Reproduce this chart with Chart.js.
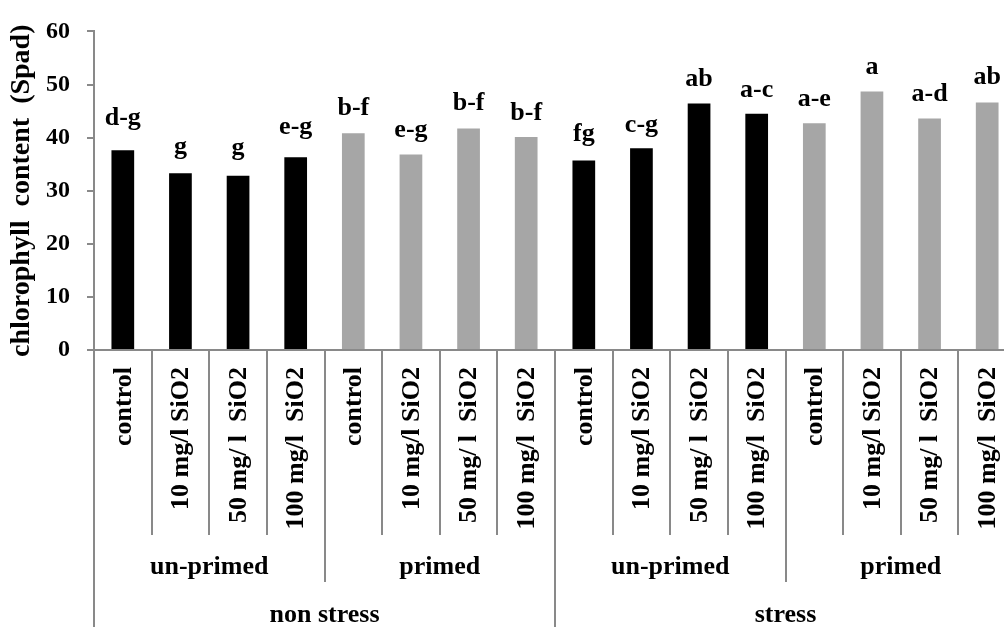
<!DOCTYPE html>
<html>
<head>
<meta charset="utf-8">
<script src="https://cdn.jsdelivr.net/npm/chart.js@4/dist/chart.umd.min.js"></script>
<style>
  html, body { margin: 0; padding: 0; background: #fff; overflow: hidden; }
  #wrap { width: 1020px; height: 627px; }
</style>
</head>
<body>
<div id="wrap"><canvas id="c" width="1020" height="627"></canvas></div>
<script>
// Treatment labels (innermost level of the category axis)
const treatments = [
  'control', '10 mg/l SiO2', '50 mg/ l  SiO2', '100 mg/l  SiO2',
  'control', '10 mg/l SiO2', '50 mg/ l  SiO2', '100 mg/l  SiO2',
  'control', '10 mg/l SiO2', '50 mg/ l  SiO2', '100 mg/l  SiO2',
  'control', '10 mg/l SiO2', '50 mg/ l  SiO2', '100 mg/l  SiO2'
];
// Seed priming groups (middle level), each spanning 4 treatments
const priming = ['un-primed', 'primed', 'un-primed', 'primed'];
// Stress conditions (outer level), each spanning 8 treatments
const conditions = ['non stress', 'stress'];

// Chlorophyll content (SPAD) per treatment
const spad = [37.6, 33.3, 32.8, 36.3, 40.8, 36.8, 41.7, 40.1,
              35.7, 38.0, 46.4, 44.5, 42.7, 48.7, 43.6, 46.6];
// Mean separation letters
const letters = ['d-g', 'g', 'g', 'e-g', 'b-f', 'e-g', 'b-f', 'b-f',
                 'fg', 'c-g', 'ab', 'a-c', 'a-e', 'a', 'a-d', 'ab'];

// Y axis range
const yMin = 0, yMax = 60, yStep = 10;

const SERIF = '"Liberation Serif", "Times New Roman", serif';
const AXIS_GREY = '#898989';
const fillFor = i => (priming[Math.floor(i / 4)] === 'un-primed' ? '#000000' : '#a6a6a6');
// gap (px) between each bar top and the baseline of its letter label
const letterGap = [25, 19, 21, 23, 18, 18, 19, 17, 19, 16, 18, 17, 17, 17, 17, 19];

const multiLevelAxis = {
  id: 'multiLevelAxis',
  afterDraw(chart) {
    const { ctx, chartArea } = chart;
    const x = chart.scales.x;
    const n = treatments.length;
    const step = (chartArea.right - chartArea.left) / n;
    const base = chartArea.bottom;
    const bottom = chart.height;

    ctx.save();
    // separators between categories
    ctx.strokeStyle = AXIS_GREY;
    ctx.lineWidth = 2;
    for (let i = 0; i <= n; i++) {
      const bx = Math.round(chartArea.left + i * step);
      let end = base + 185;
      if (i % 8 === 0) end = bottom;
      else if (i % 4 === 0) end = base + 232;
      ctx.beginPath();
      ctx.moveTo(bx, base);
      ctx.lineTo(bx, end);
      ctx.stroke();
    }

    // treatment labels, rotated
    ctx.fillStyle = '#000';
    ctx.font = 'bold 26px ' + SERIF;
    treatments.forEach((t, i) => {
      const cx = x.getPixelForValue(i) + 1;
      ctx.save();
      ctx.translate(cx, base + 17);
      ctx.rotate(-Math.PI / 2);
      ctx.textAlign = 'right';
      ctx.textBaseline = 'middle';
      ctx.fillText(t, 0, 0);
      ctx.restore();
    });

    // priming group labels
    ctx.textAlign = 'center';
    ctx.textBaseline = 'middle';
    priming.forEach((p, g) => {
      const cx = chartArea.left + (g * 4 + 2) * step;
      ctx.fillText(p, cx, base + 217);
    });
    // stress condition labels
    conditions.forEach((c, g) => {
      const cx = chartArea.left + (g * 8 + 4) * step;
      ctx.fillText(c, cx, base + 265);
    });

    // letters above bars
    const meta = chart.getDatasetMeta(0);
    ctx.textBaseline = 'alphabetic';
    meta.data.forEach((bar, i) => {
      ctx.fillText(letters[i], bar.x, bar.y - letterGap[i]);
    });
    ctx.restore();
  }
};

new Chart(document.getElementById('c'), {
  type: 'bar',
  data: {
    labels: treatments,
    datasets: [{
      data: spad,
      backgroundColor: spad.map((_, i) => fillFor(i)),
      borderWidth: 0,
      categoryPercentage: 1,
      barPercentage: 0.394
    }]
  },
  options: {
    responsive: false,
    animation: false,
    events: [],
    layout: { padding: { top: 20, right: 4, left: 0, bottom: 0 } },
    plugins: { legend: { display: false }, tooltip: { enabled: false } },
    scales: {
      x: {
        afterFit(scale) { scale.height = 277; },
        ticks: { display: false },
        grid: { display: false },
        border: { display: true, color: AXIS_GREY, width: 2 }
      },
      y: {
        min: yMin, max: yMax,
        afterFit(scale) { scale.width = 94; },
        ticks: {
          stepSize: yStep,
          padding: 17,
          color: '#000',
          font: { family: SERIF, size: 24, weight: 'bold' }
        },
        grid: { drawOnChartArea: false, drawTicks: true, tickLength: 7, color: AXIS_GREY, lineWidth: 2 },
        border: { display: true, color: AXIS_GREY, width: 2 },
        title: {
          display: true,
          text: 'chlorophyll  content  (Spad)',
          color: '#000',
          font: { family: SERIF, size: 28, weight: 'bold' },
          padding: { top: 5, bottom: 0 }
        }
      }
    }
  },
  plugins: [multiLevelAxis]
});
</script>
</body>
</html>
